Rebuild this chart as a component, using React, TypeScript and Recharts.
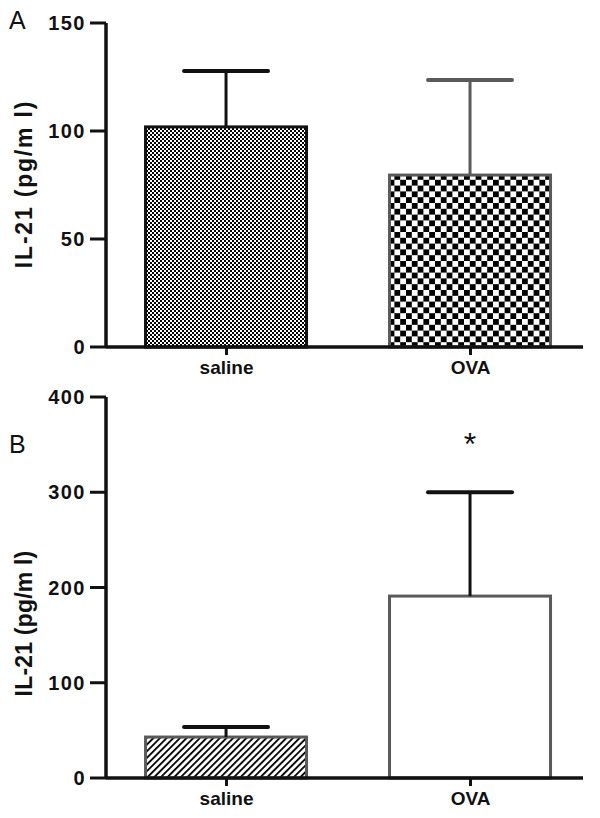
import React from 'react';
import { BarChart, Bar, XAxis, YAxis } from 'recharts';

// values
const categories = ['saline', 'OVA'];
const panelAMeans = [101.9, 79.6];
const panelAErrors = [25.9, 44.0];
const panelBMeans = [43, 191];
const panelBErrors = [10.5, 109];
const panelBMarks = ['', '*'];
const panelATicks = [0, 50, 100, 150];
const panelBTicks = [0, 100, 200, 300, 400];
const yTitle = 'IL-21 (pg/m l)';

const FONT = '"Liberation Sans", Arial, sans-serif';
const INK = '#111';
const GREY = '#5a5a5a';

const stylesA = [
  { fill: 'url(#fineCheck)', stroke: INK, err: INK },
  { fill: 'url(#bigCheck)', stroke: GREY, err: GREY },
];
const stylesB = [
  { fill: 'url(#hatch)', stroke: GREY, err: INK },
  { fill: '#fff', stroke: GREY, err: INK },
];

const dataA = categories.map((name, i) => ({ x: i, name, mean: panelAMeans[i], err: panelAErrors[i], mark: '' }));
const dataB = categories.map((name, i) => ({ x: i, name, mean: panelBMeans[i], err: panelBErrors[i], mark: panelBMarks[i] }));

const makeShape = (styles: any[]) => (props: any) => {
  const { x, y, width, height, payload } = props;
  const st = styles[payload.x];
  const cx = x + width / 2;
  const perUnit = height / payload.mean;
  const errTop = y - payload.err * perUnit;
  return (
    <g>
      <rect x={x} y={y} width={width} height={height} fill={st.fill} stroke={st.stroke} strokeWidth={3} />
      <line x1={cx} x2={cx} y1={y} y2={errTop} stroke={st.err} strokeWidth={3} />
      <line x1={cx - 42} x2={cx + 42} y1={errTop} y2={errTop} stroke={st.err} strokeWidth={4} strokeLinecap="round" />
      {payload.mark ? (
        <text x={cx} y={errTop - 37} textAnchor="middle" fontFamily={FONT} fontSize={32} fill={INK}>
          {payload.mark}
        </text>
      ) : null}
    </g>
  );
};

const YTitle = (props: any) => {
  const { viewBox, dy } = props;
  const cx = viewBox.x + 23.5;
  const cy = viewBox.y + viewBox.height / 2 + dy;
  return (
    <text
      x={cx}
      y={cy}
      transform={`rotate(-90 ${cx} ${cy})`}
      textAnchor="middle"
      dominantBaseline="central"
      fontFamily={FONT}
      fontWeight="bold"
      fontSize={23}
      letterSpacing={props.spacing}
      fill={INK}
    >
      {yTitle}
    </text>
  );
};

const xTickStyle = { fontFamily: FONT, fontWeight: 'bold', fontSize: 19, fill: INK };
const yTickStyle = { fontFamily: FONT, fontWeight: 'bold', fontSize: 20, letterSpacing: 1.5, fill: INK };

function Panel({ data, styles, ticks, height, top, bottom, titleDy, spacing }: any) {
  return (
    <BarChart width={600} height={height} data={data} margin={{ top, right: 17, left: 0, bottom }}>
      <defs>
        <pattern id="fineCheck" width={4} height={4} patternUnits="userSpaceOnUse">
          <rect width={4} height={4} fill="#fff" />
          <rect x={0} y={0} width={2} height={2} fill="#000" />
          <rect x={2} y={2} width={2} height={2} fill="#000" />
        </pattern>
        <pattern id="bigCheck" width={11.6} height={11.6} patternUnits="userSpaceOnUse">
          <rect width={11.6} height={11.6} fill="#fff" />
          <rect x={0} y={0} width={5.8} height={5.8} fill="#000" />
          <rect x={5.8} y={5.8} width={5.8} height={5.8} fill="#000" />
        </pattern>
        <pattern id="hatch" width={4.7} height={10} patternUnits="userSpaceOnUse" patternTransform="rotate(45)">
          <rect width={4.7} height={10} fill="#fff" />
          <rect x={0} y={0} width={1.8} height={10} fill="#000" />
        </pattern>
      </defs>
      <XAxis
        type="number"
        dataKey="x"
        domain={[-0.494, 1.461]}
        ticks={[0, 1]}
        tickFormatter={(v: number) => categories[v]}
        tickSize={8}
        tickMargin={6}
        height={35}
        axisLine={{ stroke: INK, strokeWidth: 3.5 }}
        tickLine={{ stroke: INK, strokeWidth: 3 }}
        tick={xTickStyle}
        allowDataOverflow
      />
      <YAxis
        type="number"
        domain={[0, ticks[ticks.length - 1]]}
        ticks={ticks}
        interval={0}
        width={106}
        tickSize={16}
        tickMargin={4}
        axisLine={{ stroke: INK, strokeWidth: 3.5 }}
        tickLine={{ stroke: INK, strokeWidth: 3 }}
        tick={yTickStyle}
        label={{ content: (p: any) => <YTitle {...p} dy={titleDy} spacing={spacing} /> }}
      />
      <Bar dataKey="mean" barSize={161} shape={makeShape(styles)} isAnimationActive={false} />
    </BarChart>
  );
}

export default function App() {
  return (
    <div style={{ position: 'absolute', left: 0, top: 0, width: 600, height: 818, background: '#fff' }}>
      <div style={{ position: 'absolute', left: 0, top: 0 }}>
        <Panel data={dataA} styles={stylesA} ticks={panelATicks} height={395} top={23} bottom={13} titleDy={-1} spacing={1.8} />
      </div>
      <div style={{ position: 'absolute', left: 0, top: 385 }}>
        <Panel data={dataB} styles={stylesB} ticks={panelBTicks} height={433} top={12} bottom={5} titleDy={36} spacing={0.2} />
      </div>
      <svg width={600} height={818} style={{ position: 'absolute', left: 0, top: 0, pointerEvents: 'none' }}>
        <text x={9} y={29} fontFamily={FONT} fontSize={25} fill={INK}>A</text>
        <text x={9} y={453} fontFamily={FONT} fontSize={25} fill={INK}>B</text>
      </svg>
    </div>
  );
}
